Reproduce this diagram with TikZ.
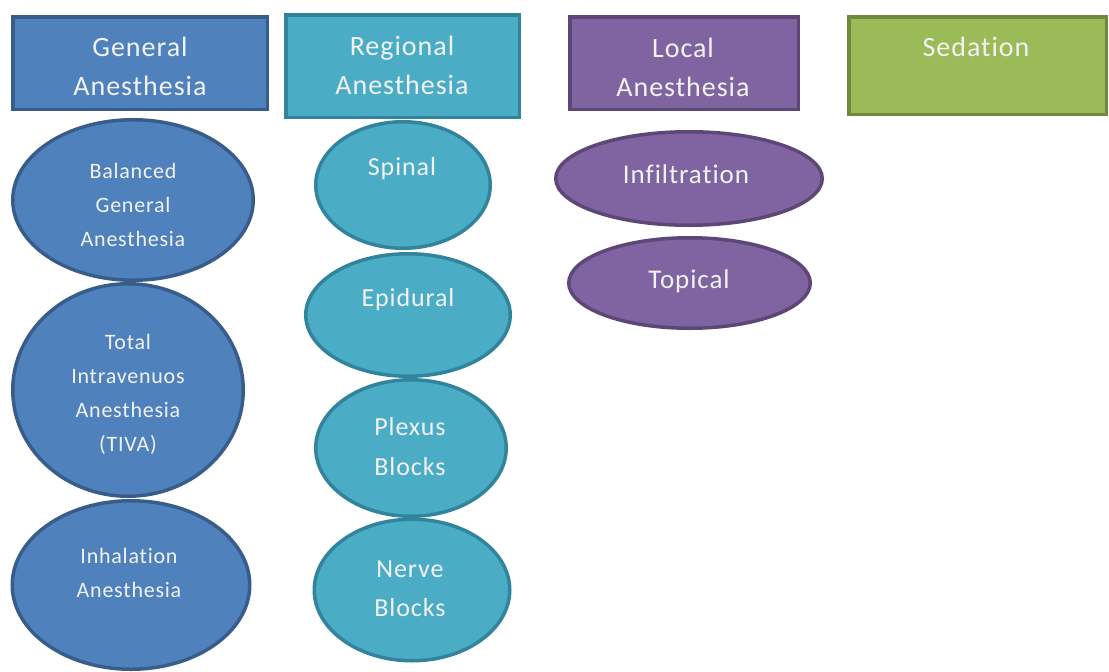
\documentclass[tikz,border=0pt]{standalone}
\usepackage{fontspec}
\setmainfont{Carlito}[Ligatures=NoCommon,LetterSpace=3.5]
\usetikzlibrary{shapes.geometric}
\definecolor{bluefill}{HTML}{4F81BD}
\definecolor{blueline}{HTML}{385D8A}
\definecolor{cyanfill}{HTML}{4BACC6}
\definecolor{cyanline}{HTML}{31849B}
\definecolor{purpfill}{HTML}{8064A2}
\definecolor{purpline}{HTML}{5C4776}
\definecolor{greenfill}{HTML}{9BBB59}
\definecolor{greenline}{HTML}{71893F}
\definecolor{txt}{HTML}{F2F2F2}
\tikzset{
  hbox/.style={rectangle, line width=3.5pt, inner sep=0pt},
  oval/.style={ellipse, line width=3.5pt, inner sep=0pt},
  blu/.style={fill=bluefill, draw=blueline},
  cya/.style={fill=cyanfill, draw=cyanline},
  pur/.style={fill=purpfill, draw=purpline},
  gre/.style={fill=greenfill, draw=greenline},
  hdr/.style={text=txt, align=center, inner sep=0pt, font=\fontsize{28}{39}\selectfont},
  smt/.style={text=txt, align=center, inner sep=0pt, font=\fontsize{22}{34}\selectfont},
  mdt/.style={text=txt, align=center, inner sep=0pt, font=\fontsize{26}{39.5}\selectfont},
  lgt/.style={text=txt, align=center, inner sep=0pt, font=\fontsize{27}{39}\selectfont},
}
\begin{document}
\begin{tikzpicture}[x=1pt,y=-1pt]
\useasboundingbox (0,0) rectangle (1109,672);
% header boxes
\node[hbox,blu,minimum width=254.5pt,minimum height=92.5pt] (gen) at (140,63) {};
\node[hbox,cya,minimum width=233.5pt,minimum height=102.5pt] (reg) at (402.5,66) {};
\node[hbox,pur,minimum width=228.5pt,minimum height=92.5pt] (loc) at (684,63) {};
\node[hbox,gre,minimum width=257.5pt,minimum height=97.5pt] (sed) at (977.5,65.5) {};
\node[hdr] (gent) at (140,66.5) {General\\Anesthesia};
\node[hdr] (regt) at (402,65) {Regional\\Anesthesia};
\node[hdr] (loct) at (683,67.5) {Local\\Anesthesia};
\node[hdr] (sedt) at (976,47) {Sedation};
% general column
\node[oval,blu,minimum width=240.5pt,minimum height=160.5pt] (bal) at (133,200) {};
\node[oval,blu,minimum width=230.5pt,minimum height=212.5pt] (tiva) at (128,390) {};
\node[oval,blu,minimum width=237.5pt,minimum height=168.5pt] (inh) at (131,585) {};
\node[smt] (balt) at (133,204.5) {Balanced\\General\\Anesthesia};
\node[smt] (tivat) at (128,394) {Total\\Intravenuos\\Anesthesia\\(TIVA)};
\node[smt] (inht) at (129,572.5) {Inhalation\\Anesthesia};
% regional column
\node[oval,cya,minimum width=174.5pt,minimum height=126.5pt] (spi) at (403,185) {};
\node[oval,cya,minimum width=204.5pt,minimum height=122.5pt] (epi) at (408,315) {};
\node[oval,cya,minimum width=190.5pt,minimum height=136.5pt] (plx) at (411,448) {};
\node[oval,cya,minimum width=195.5pt,minimum height=141.5pt] (nrv) at (412,590) {};
\node[mdt] (spit) at (402,168.5) {Spinal};
\node[mdt] (epit) at (408,299.5) {Epidural};
\node[mdt] (plxt) at (410,446.5) {Plexus\\Blocks};
\node[mdt] (nrvt) at (410,588.5) {Nerve\\Blocks};
% local column
\node[oval,pur,minimum width=266.5pt,minimum height=93.5pt] (inf) at (689,178.5) {};
\node[oval,pur,minimum width=241.5pt,minimum height=90.5pt] (top) at (689.5,283) {};
\node[lgt] (inft) at (686,174.5) {Infiltration};
\node[lgt] (topt) at (689,281) {Topical};
\end{tikzpicture}
\end{document}
